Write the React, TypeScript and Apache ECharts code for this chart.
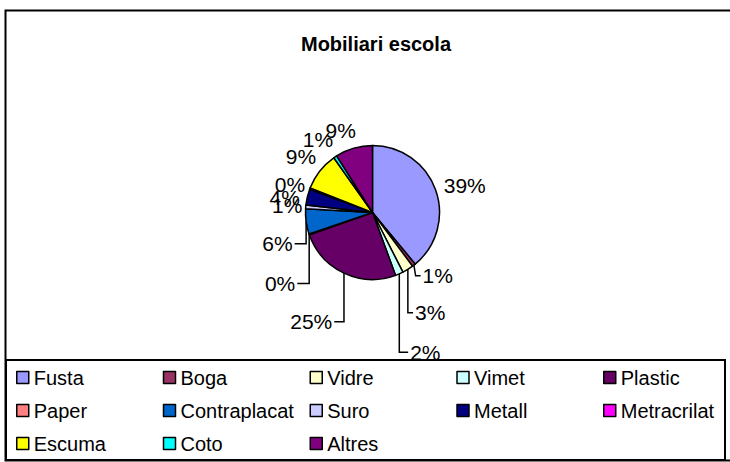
import React, { useEffect, useRef } from "react";
import * as echarts from "echarts";

const categories = [
  "Fusta", "Boga", "Vidre", "Vimet", "Plastic",
  "Paper", "Contraplacat", "Suro", "Metall", "Metracrilat",
  "Escuma", "Coto", "Altres",
];
const values = [39.0, 0.8, 2.7, 1.9, 25.2, 0.2, 6.1, 0.9, 3.8, 0.4, 9.2, 0.8, 9.0];
const colors = [
  "#9999FF", "#993366", "#FFFFCC", "#CCFFFF", "#660066",
  "#FF8080", "#0066CC", "#CCCCFF", "#000080", "#FF00FF",
  "#FFFF00", "#00FFFF", "#800080",
];
const titleText = "Mobiliari escola";

// label styling: manual drag offsets (Excel-style) and whether a leader line is drawn
const labelShift: [number, number][] = [
  [1, 6], [10, -7], [11, 25], [18, 60], [-23, 28],
  [-6, 41], [-5, 19], [5, 1], [1, 6], [3, 5],
  [0, 0], [-5, 1], [-8, 0],
];
const leaderLines = [false, true, true, true, true, true, true, false, false, false, false, false, false];

const CX = 372.5;
const CY = 212.5;
const R = 67;

export default function App() {
  const ref = useRef<HTMLDivElement>(null);
  useEffect(() => {
    if (!ref.current) return;
    const chart = echarts.init(ref.current, null, { renderer: "svg" });
    const font = "'Liberation Sans', Arial, sans-serif";
    const total = values.reduce((a, b) => a + b, 0);
    const midAngles: number[] = [];
    let cum = 0;
    values.forEach((v) => {
      midAngles.push(((cum + v / 2) / total) * Math.PI * 2);
      cum += v;
    });

    chart.setOption({
      animation: false,
      backgroundColor: "#fff",
      color: colors,
      title: {
        text: titleText,
        left: 376,
        top: 34,
        padding: 0,
        textAlign: "center",
        textStyle: { fontFamily: font, fontSize: 20, fontWeight: "bold", color: "#000" },
      },
      legend: {
        data: categories,
        left: 16,
        top: 366,
        width: 725,
        padding: 0,
        itemGap: 10,
        itemWidth: 12,
        itemHeight: 12,
        icon: "rect",
        itemStyle: { borderColor: "#000", borderWidth: 1.5 },
        textStyle: { fontFamily: font, fontSize: 20, color: "#000", width: 119, lineHeight: 23 },
      },
      graphic: [
        { type: "rect", shape: { x: 5.5, y: 10.5, width: 740, height: 450 }, style: { fill: "none", stroke: "#000", lineWidth: 2 }, z: 10 },
        { type: "rect", shape: { x: 6, y: 360, width: 719, height: 100 }, style: { fill: "none", stroke: "#000", lineWidth: 2 }, z: 10 },
      ],
      series: [
        {
          type: "pie",
          center: [CX, CY],
          radius: R,
          startAngle: 90,
          clockwise: true,
          avoidLabelOverlap: false,
          data: categories.map((name, i) => ({
            name,
            value: values[i],
            labelLine: { show: leaderLines[i] },
          })),
          itemStyle: { borderColor: "#000", borderWidth: 1.5 },
          label: {
            show: true,
            position: "outside",
            formatter: (p: any) => Math.round(p.percent) + "%",
            fontFamily: font,
            fontSize: 21,
            color: "#000",
          },
          labelLine: {
            show: true,
            length: 8,
            length2: 6,
            lineStyle: { color: "#000", width: 1.5 },
          },
          labelLayout: (p: any) => {
            const i = p.dataIndex;
            const th = midAngles[i];
            const s = Math.sin(th);
            const c = Math.cos(th);
            const w = p.labelRect.width;
            const h = p.labelRect.height * 0.62;
            const half = (w / 2) * Math.abs(s) + (h / 2) * Math.abs(c);
            const d = R + 8 + half;
            const x = CX + d * s + labelShift[i][0];
            const y = CY - d * c + labelShift[i][1];
            const ex = CX + R * s;
            const ey = CY - R * c;
            const right = x > ex;
            const side = right ? x - w / 2 - 2 : x + w / 2 + 2;
            const pts =
              i === 1
                ? [[ex, ey], [side - 5, y], [side, y]]
                : [[ex, ey], [ex, y], [side, y]];
            return {
              x,
              y,
              align: "center",
              verticalAlign: "middle",
              labelLinePoints: pts,
            };
          },
          emphasis: { disabled: true },
        },
      ],
    });
    return () => chart.dispose();
  }, []);
  return (
    <div
      ref={ref}
      style={{ position: "fixed", left: 0, top: 0, width: 730, height: 462 }}
    />
  );
}
